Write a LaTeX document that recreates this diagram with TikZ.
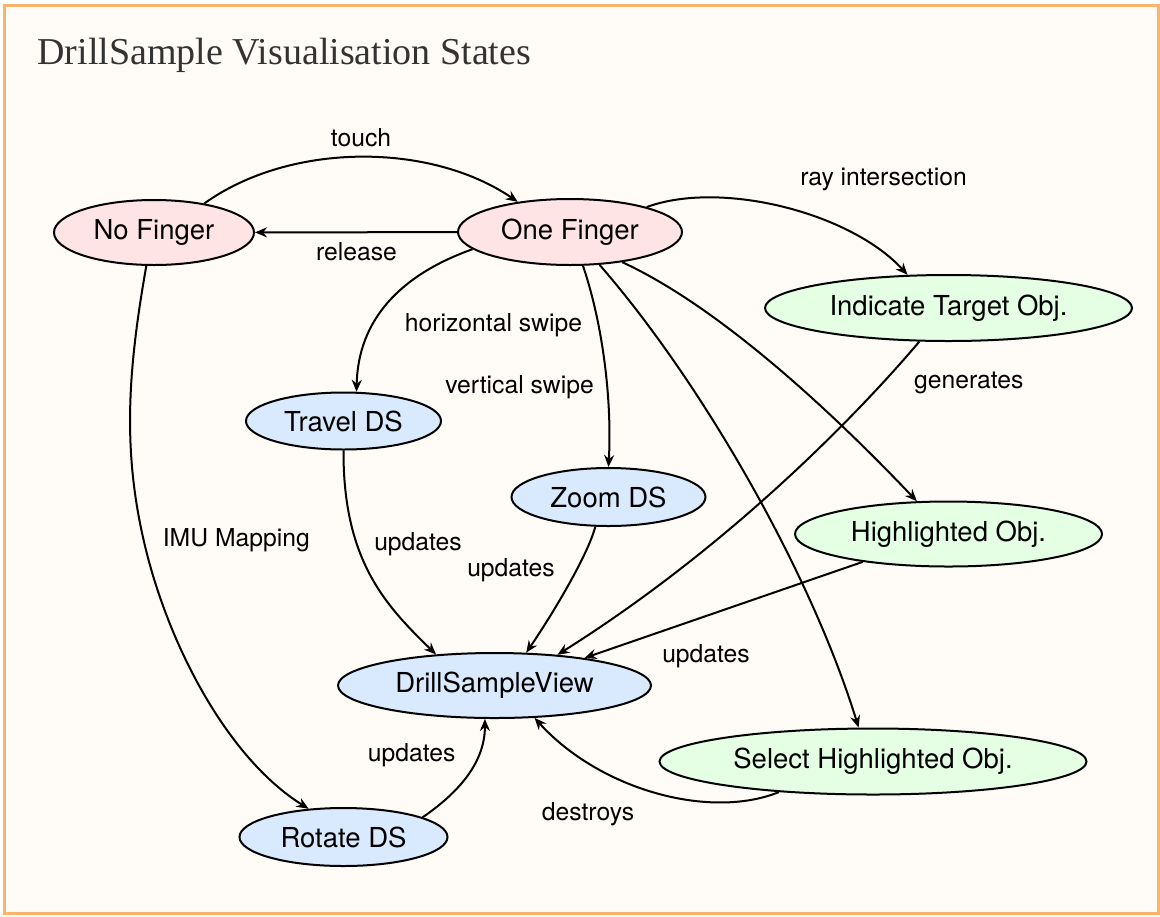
\documentclass[tikz,border=0pt]{standalone}
\usepackage{fontspec}
\usetikzlibrary{shapes.geometric,arrows.meta}
\newfontfamily\helv{TeX Gyre Heros}
\newfontfamily\tims{Liberation Serif}
\definecolor{bgc}{RGB}{255,251,247}
\definecolor{frc}{RGB}{250,180,110}
\definecolor{pinkf}{RGB}{255,228,230}
\definecolor{bluef}{RGB}{218,234,254}
\definecolor{greenf}{RGB}{228,255,228}
\definecolor{titc}{RGB}{51,51,51}
\begin{document}
\begin{tikzpicture}[x=0.5pt,y=-0.5pt,
 st/.style={ellipse,draw=black,line width=1pt,inner sep=0pt,font=\helv\fontsize{13.75}{16}\selectfont},
 pinkst/.style={st,fill=pinkf},
 bluest/.style={st,fill=bluef},
 greenst/.style={st,fill=greenf},
 lbl/.style={anchor=base,inner sep=0pt,font=\helv\fontsize{12.35}{14}\selectfont},
 conn/.style={line width=1pt,-{Stealth[length=6pt,width=5pt,inset=2pt]}}]

\useasboundingbox (0,0) rectangle (1160,916);
\draw[frc,fill=bgc,line width=1.5pt] (4.3,5.3) rectangle (1158,913);
\node[anchor=base west,inner sep=0pt,font=\tims\fontsize{19}{22}\selectfont,text=titc] (title) at (37,64) {DrillSample Visualisation States};

% states
\node[pinkst,minimum width=100pt,minimum height=32.5pt] (nf) at (154,232.5) {No Finger};
\node[pinkst,minimum width=112pt,minimum height=33pt] (of) at (570,232) {One Finger};
\node[greenst,minimum width=183.5pt,minimum height=33pt] (it) at (948.5,308) {Indicate Target Obj.};
\node[bluest,minimum width=97.5pt,minimum height=28.5pt] (tr) at (343.5,421) {Travel DS};
\node[bluest,minimum width=97pt,minimum height=29pt] (zm) at (608.5,497) {Zoom DS};
\node[greenst,minimum width=153.5pt,minimum height=32.5pt] (hl) at (948.5,534) {Highlighted Obj.};
\node[bluest,minimum width=156.5pt,minimum height=32.5pt] (dsv) at (494.5,685.5) {DrillSampleView};
\node[greenst,minimum width=213.5pt,minimum height=33pt] (sh) at (873,761.5) {Select Highlighted Obj.};
\node[bluest,minimum width=104pt,minimum height=29pt] (rt) at (343.5,837) {Rotate DS};

% connectors
\draw[conn] (nf.30) .. controls (290,142) and (430,142) .. (of.150);
\draw[conn] (of) -- (nf);
\draw[conn] (of.18) .. controls (720,180) and (850,212) .. (it.141);
\draw[conn] (of.190) .. controls (400,275) and (358,320) .. (tr.66);
\draw[conn] (of.291) .. controls (603,325) and (612,400) .. (zm.north);
\draw[conn] (of.-30) .. controls (730,312) and (852,433) .. (hl.134);
\draw[conn] (of.-48) .. controls (700,380) and (810,570) .. (sh.113);
\draw[conn] (it.229.5) .. controls (870,400) and (740,540) .. (dsv.26);
\draw[conn] (hl.198) -- (dsv.17);
\draw[conn] (tr.south) .. controls (343,560) and (385,605) .. (dsv.152);
\draw[conn] (zm.246) .. controls (588,555) and (552,615) .. (dsv.46);
\draw[conn] (nf.257) .. controls (128,370) and (122,450) .. (145,546) .. controls (170,650) and (230,760) .. (rt.141);
\draw[conn] (rt.14) .. controls (455,795) and (485,765) .. (dsv.254);
\draw[conn] (sh.198) .. controls (710,820) and (600,790) .. (dsv.-39);

% labels
\node[lbl] (ltouch) at (361,146.5) {touch};
\node[lbl] (lrelease) at (356.5,260) {release};
\node[lbl] (lray) at (883.5,185) {ray intersection};
\node[lbl] (lhor) at (493.5,331.7) {horizontal swipe};
\node[lbl] (lver) at (519.5,393) {vertical swipe};
\node[lbl] (lgen) at (968.8,388.3) {generates};
\node[lbl] (limu) at (236.3,546) {IMU Mapping};
\node[lbl] (lup1) at (418,550) {updates};
\node[lbl] (lup2) at (511,576.7) {updates};
\node[lbl] (lup3) at (706,662) {updates};
\node[lbl] (lup4) at (411.7,761) {updates};
\node[lbl] (ldes) at (588,820) {destroys};
\end{tikzpicture}
\end{document}
